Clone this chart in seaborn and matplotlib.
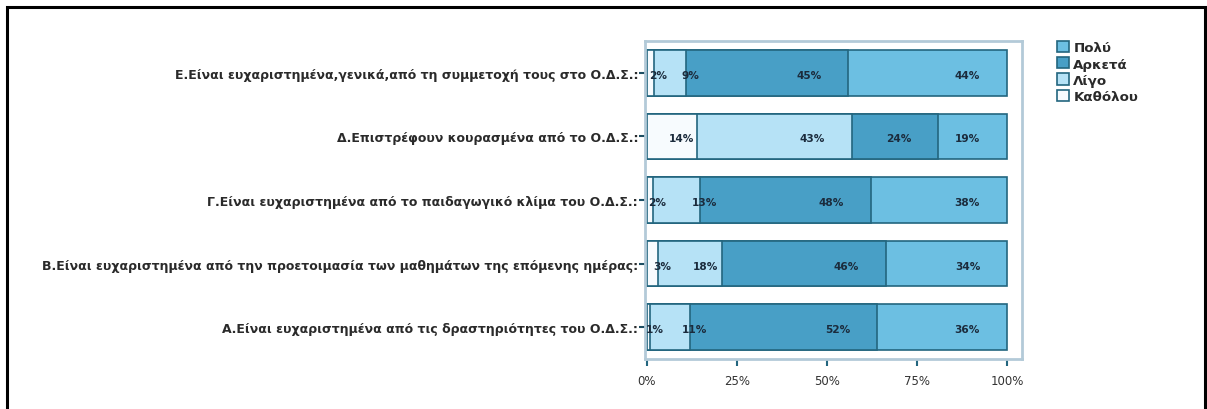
import matplotlib
matplotlib.use("Agg")
import matplotlib.pyplot as plt
import seaborn as sns
import pandas as pd
import numpy as np
from matplotlib.patches import Patch, Rectangle

questions = [
    "Ε.Είναι ευχαριστημένα,γενικά,από τη συμμετοχή τους στο Ο.Δ.Σ.:",
    "Δ.Επιστρέφουν κουρασμένα από το Ο.Δ.Σ.:",
    "Γ.Είναι ευχαριστημένα από το παιδαγωγικό κλίμα του Ο.Δ.Σ.:",
    "Β.Είναι ευχαριστημένα από την προετοιμασία των μαθημάτων της επόμενης ημέρας:",
    "Α.Είναι ευχαριστημένα από τις δραστηριότητες του Ο.Δ.Σ.:",
]
katholou = [2.0, 14.0, 1.6, 3.2, 1.0]
ligo = [9.0, 43.0, 13.1, 17.6, 11.0]
arketa = [45.0, 24.0, 47.6, 45.7, 52.0]
poly = [44.0, 19.0, 37.7, 33.6, 36.0]

levels = ["Καθόλου", "Λίγο", "Αρκετά", "Πολύ"]
colors = {"Πολύ": "#6cbfe2", "Αρκετά": "#489fc6", "Λίγο": "#b6e2f6", "Καθόλου": "#f7fbfe"}
edge = "#23667f"

sns.set_theme(style="white")
plt.rcParams['font.family'] = ['DejaVu Sans']

df = pd.DataFrame({"q": questions, "Καθόλου": katholou, "Λίγο": ligo,
                   "Αρκετά": arketa, "Πολύ": poly})
cum = df[levels].cumsum(axis=1)

fig = plt.figure(figsize=(12.07, 4.10), dpi=100)
ax = fig.add_axes([645/1207, 1-360/410, (1022-645)/1207, (360-42)/410])

# draw from total down so that each stacked segment is visible
for lev in reversed(levels):
    d = pd.DataFrame({"q": df["q"], "v": cum[lev]})
    sns.barplot(data=d, y="q", x="v", order=questions, color=colors[lev],
                orient="h", width=0.72, edgecolor=edge, linewidth=1.2,
                saturation=1, ax=ax, errorbar=None)

# value labels
for i, q in enumerate(questions):
    for lev in levels:
        w = df.loc[i, lev]
        e = cum.loc[i, lev]
        if w >= 19:
            x = e - 11
        elif w >= 14:
            x = e - 4.5
        else:
            x = e + 1.2
        ax.text(x, i + 0.03, f"{w:.0f}%", ha="center", va="center", fontsize=7.6,
                fontweight="bold", color="#1b2b3c")

ax.set_xlim(-0.5, 104.2)
ax.set_ylim(4.5, -0.5)
ax.set_xticks([0, 25, 50, 75, 100])
ax.set_xticklabels(["0%", "25%", "50%", "75%", "100%"], fontsize=8.5, color="#333333")
ax.set_xlabel("")
ax.set_ylabel("")
ax.tick_params(axis="y", labelsize=9.0, length=4, width=1.5, color="#1d4e63", pad=1,
               left=True)
for lbl in ax.get_yticklabels():
    lbl.set_fontweight("bold")
    lbl.set_color("#2a2a2a")
ax.tick_params(axis="x", length=5, width=1.5, color="#23667f", pad=6, bottom=True)
for s in ax.spines.values():
    s.set_color("#b3cad8")
    s.set_linewidth(2)

handles = [Patch(facecolor=colors[l], edgecolor=edge, linewidth=1.2, label=l)
           for l in ["Πολύ", "Αρκετά", "Λίγο", "Καθόλου"]]
leg = fig.legend(handles=handles, loc="upper left", bbox_to_anchor=(1052/1207, 1-37/410),
                 frameon=False, prop={"size": 9.6, "weight": "bold"}, handlelength=0.9,
                 handleheight=0.9, handletextpad=0.3, labelspacing=0.22, borderaxespad=0)
for t in leg.get_texts():
    t.set_color("#2a2a2a")

# outer black frame
fig.patches.append(Rectangle((7/1207, -0.2), (1205-7)/1207, 1.2 - 8/410,
                             transform=fig.transFigure, fill=False,
                             edgecolor="black", linewidth=2.2))

fig.savefig("out.png", dpi=100)
